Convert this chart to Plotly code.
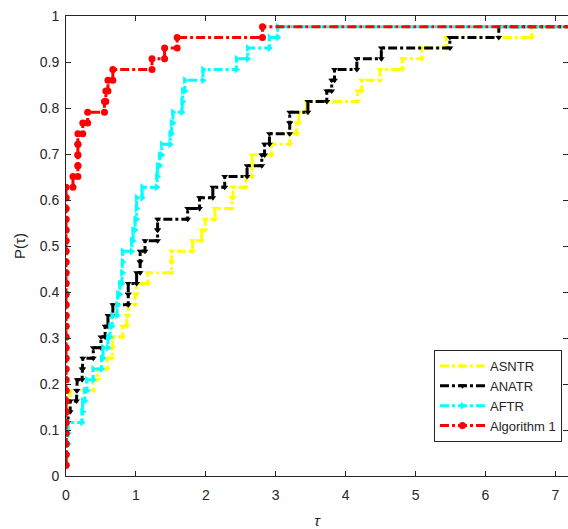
import plotly.graph_objects as go

n_problems = 43
FAIL = 10.0  # unsolved problem: ratio beyond the plotted range

series_names = ["ASNTR", "ANATR", "AFTR", "Algorithm 1"]

asntr_tau = [0.0] * 7 + [0.06, 0.39, 0.45, 0.59, 0.66, 0.67, 0.81, 0.87, 0.89, 0.99, 1.01,
                         1.17, 1.51, 1.51, 1.81, 1.94, 1.99, 2.13, 2.37, 2.39, 2.57, 2.66, 2.66,
                         2.94, 3.20, 3.30, 3.33, 3.44, 4.17, 4.23, 4.49, 4.81, 5.09, 5.44, 6.66, FAIL]
anatr_tau = [0.0] * 5 + [0.03, 0.06, 0.15, 0.16, 0.23, 0.24, 0.39, 0.50, 0.56, 0.60, 0.67, 0.89,
                         0.89, 1.01, 1.06, 1.06, 1.13, 1.31, 1.31, 1.74, 1.91, 2.10, 2.27, 2.59,
                         2.80, 2.84, 2.91, 3.20, 3.20, 3.46, 3.73, 3.80, 3.84, 4.16, 4.51, 5.49, 6.19, FAIL]
aftr_tau = [0.0] * 3 + [0.03, 0.03, 0.23, 0.24, 0.27, 0.30, 0.39, 0.51, 0.53, 0.60, 0.63, 0.66,
                        0.73, 0.74, 0.77, 0.80, 0.81, 0.81, 0.94, 0.96, 0.99, 1.01, 1.01, 1.09,
                        1.30, 1.31, 1.34, 1.37, 1.49, 1.51, 1.53, 1.66, 1.67, 1.70, 1.96, 2.44,
                        2.60, 2.91, 3.03, FAIL]
alg1_tau = [0.0] * 27 + [0.10, 0.17, 0.17, 0.17, 0.17, 0.24, 0.31, 0.55, 0.57, 0.60, 0.67,
                         1.23, 1.41, 1.59, 2.81, FAIL]

x_ticks = [0, 1, 2, 3, 4, 5, 6, 7]
y_ticks = [0, 0.1, 0.2, 0.3, 0.4, 0.5, 0.6, 0.7, 0.8, 0.9, 1]
y_tick_labels = ["0", "0.1", "0.2", "0.3", "0.4", "0.5", "0.6", "0.7", "0.8", "0.9", "1"]

colors = ["#FFFF00", "#000000", "#00FFFF", "#FF0000"]
markers = ["triangle-down", "triangle-down", "triangle-right", "circle"]
msizes = [6, 6, 7, 7]


def stairs(tau, n):
    t = sorted(tau)
    y = [(i + 1) / n for i in range(len(t))]
    xs, ys = [t[0]], [y[0]]
    for i in range(1, len(t)):
        xs += [t[i], t[i]]
        ys += [y[i - 1], y[i]]
    return xs, ys


fig = go.Figure()
for name, tau, c, m, s in zip(series_names, [asntr_tau, anatr_tau, aftr_tau, alg1_tau],
                              colors, markers, msizes):
    xs, ys = stairs(tau, n_problems)
    fig.add_trace(go.Scatter(
        x=xs, y=ys, name=name, mode="lines+markers",
        line=dict(color=c, width=3, dash="dashdot"),
        marker=dict(symbol=m, size=s, color=c),
    ))

W, H = 568, 529
L, R, T, B = 66, 0, 16, 53
fig.update_layout(
    width=W, height=H,
    margin=dict(l=L, r=R, t=T, b=B, autoexpand=False),
    paper_bgcolor="white", plot_bgcolor="white",
    font=dict(family="Liberation Sans, Arial, sans-serif", size=14, color="#262626"),
    showlegend=True,
    legend=dict(x=0.988, y=0.074, xanchor="right", yanchor="bottom",
                bgcolor="white", bordercolor="#262626", borderwidth=1,
                font=dict(size=13, color="#262626"), itemwidth=45,
                tracegroupgap=0),
)
fig.update_xaxes(
    range=[0, 7.18], tickmode="array", tickvals=x_ticks,
    ticks="inside", ticklen=5, tickcolor="#262626", ticklabelstandoff=6,
    showline=True, linecolor="#262626", linewidth=1, mirror="ticks",
    showgrid=False, zeroline=False,
    title=dict(text="<i>τ</i>", font=dict(size=15), standoff=14),
)
fig.update_yaxes(
    range=[0, 1], tickmode="array", tickvals=y_ticks, ticktext=y_tick_labels,
    ticks="inside", ticklen=5, tickcolor="#262626", ticklabelstandoff=3,
    showline=True, linecolor="#262626", linewidth=1, mirror="ticks",
    showgrid=False, zeroline=False,
    title=dict(text="P(τ)", font=dict(size=15), standoff=10),
)

fig.write_html("out.html", config={"displayModeBar": False},
               post_script="document.body.style.margin='0';document.body.style.overflow='hidden';")
